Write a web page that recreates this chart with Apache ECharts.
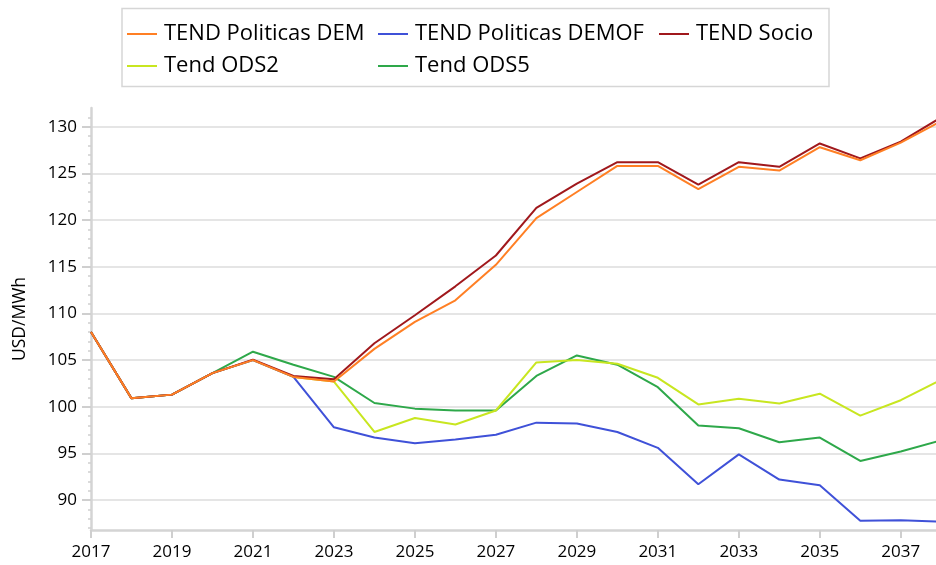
<!DOCTYPE html>
<html>
<head>
<meta charset="utf-8">
<script src="https://cdn.jsdelivr.net/npm/echarts@6/dist/echarts.min.js"></script>
<style>
  html, body { margin: 0; padding: 0; background: #fff; }
  #main { width: 936px; height: 565px; }
</style>
</head>
<body>
<div id="main"></div>
<script>
// 年份与各情景数据 (USD/MWh)
var years = [2017, 2018, 2019, 2020, 2021, 2022, 2023, 2024, 2025, 2026, 2027,
             2028, 2029, 2030, 2031, 2032, 2033, 2034, 2035, 2036, 2037, 2038];
var dem   = [108.0, 100.9, 101.3, 103.6, 105.0, 103.2, 102.7, 106.2, 109.1, 111.4, 115.2,
             120.2, 123.0, 125.8, 125.8, 123.3, 125.7, 125.3, 127.8, 126.4, 128.3, 130.6];
var demof = [108.0, 100.9, 101.3, 103.6, 105.0, 103.2, 97.8, 96.7, 96.1, 96.5, 97.0,
             98.3, 98.2, 97.3, 95.6, 91.7, 94.9, 92.2, 91.6, 87.8, 87.85, 87.7];
var socio = [108.0, 100.9, 101.3, 103.6, 105.05, 103.3, 102.95, 106.8, 109.8, 112.9, 116.2,
             121.3, 123.9, 126.2, 126.2, 123.8, 126.2, 125.7, 128.2, 126.6, 128.4, 131.0];
var ods2  = [108.0, 100.9, 101.3, 103.6, 105.0, 103.2, 102.7, 97.3, 98.8, 98.1, 99.6,
             104.75, 105.0, 104.6, 103.1, 100.25, 100.85, 100.35, 101.4, 99.05, 100.7, 102.9];
var ods5  = [108.0, 100.9, 101.3, 103.6, 105.9, 104.5, 103.2, 100.4, 99.8, 99.6, 99.6,
             103.3, 105.5, 104.5, 102.1, 98.0, 97.7, 96.2, 96.7, 94.2, 95.2, 96.4];
var xTickYears = [2017, 2019, 2021, 2023, 2025, 2027, 2029, 2031, 2033, 2035, 2037];
var yTickVals = [90, 95, 100, 105, 110, 115, 120, 125, 130];
var yMinorVals = [87, 88, 89, 91, 92, 93, 94, 96, 97, 98, 99, 101, 102, 103, 104, 106, 107, 108, 109,
                  111, 112, 113, 114, 116, 117, 118, 119, 121, 122, 123, 124, 126, 127, 128, 129, 131];

var names = ['TEND Politicas DEM', 'TEND Politicas DEMOF', 'TEND Socio', 'Tend ODS2', 'Tend ODS5'];
var colors = ['#FF7F24', '#3F51D8', '#A0181C', '#C8E620', '#2EA84A'];
var values = [dem, demof, socio, ods2, ods5];
var zs = [9, 7, 8, 6, 5];

function pairs(arr) {
    return arr.map(function (v, i) { return [years[i], v]; });
}

var font = 'Open Sans';
var txt = '#000';
var myChart = echarts.init(document.getElementById('main'));

// 图例：每项单独定位，模拟两行网格排列
var legendPos = [[127, 23], [378, 23], [659, 23], [127, 55], [378, 55]];
var legends = names.map(function (n, i) {
    return {
        data: [n],
        left: legendPos[i][0], top: legendPos[i][1],
        padding: 0,
        icon: 'rect', itemWidth: 30, itemHeight: 2,
        textStyle: { fontFamily: font, fontSize: 22, color: txt, padding: [0, 0, 0, 2] },
        selectedMode: false
    };
});

var option = {
    animation: false,
    textStyle: { fontFamily: font },
    graphic: [{
        type: 'rect',
        shape: { x: 122, y: 8.5, width: 707, height: 78 },
        style: { fill: 'none', stroke: '#d6d6d6', lineWidth: 1.5 },
        z: -1
    }],
    legend: legends,
    grid: { left: 91, right: 0, top: 108, bottom: 35, outerBoundsMode: 'none' },
    xAxis: {
        type: 'value',
        min: 2017, max: 2037.87,
        axisLine: { show: true, lineStyle: { color: '#d4d4d4', width: 2.5 } },
        axisTick: { show: true, length: 8, customValues: xTickYears, lineStyle: { color: '#cfcfcf', width: 2 } },
        axisLabel: {
            customValues: xTickYears, margin: 14,
            fontSize: 17, color: txt, fontFamily: font,
            formatter: function (v) { return String(v); }
        },
        splitLine: { show: false }
    },
    yAxis: [{
        type: 'value',
        min: 86.8, max: 132, splitNumber: 9,
        name: 'USD/MWh', nameLocation: 'middle', nameGap: 62,
        nameTextStyle: { fontSize: 17.5, color: txt, fontFamily: font },
        axisLine: { show: true, lineStyle: { color: '#d4d4d4', width: 2.5 } },
        axisTick: { show: true, length: 9, customValues: yTickVals, lineStyle: { color: '#cfcfcf', width: 2 } },
        axisLabel: {
            customValues: yTickVals, margin: 14,
            fontSize: 17, color: txt, fontFamily: font
        },
        splitLine: { show: true, lineStyle: { color: '#dcdcdc', width: 1.5 } }
    }, {
        // 次刻度
        type: 'value', position: 'left',
        min: 86.8, max: 132,
        axisLine: { show: false },
        axisTick: { show: true, length: 3, customValues: yMinorVals, lineStyle: { color: '#cfcfcf', width: 1.5 } },
        axisLabel: { show: false },
        splitLine: { show: false }
    }],
    series: names.map(function (n, i) {
        return {
            name: n,
            type: 'line',
            data: pairs(values[i]),
            symbol: 'none',
            z: zs[i],
            lineStyle: { color: colors[i], width: 2 },
            itemStyle: { color: colors[i] }
        };
    })
};
myChart.setOption(option);
</script>
</body>
</html>
